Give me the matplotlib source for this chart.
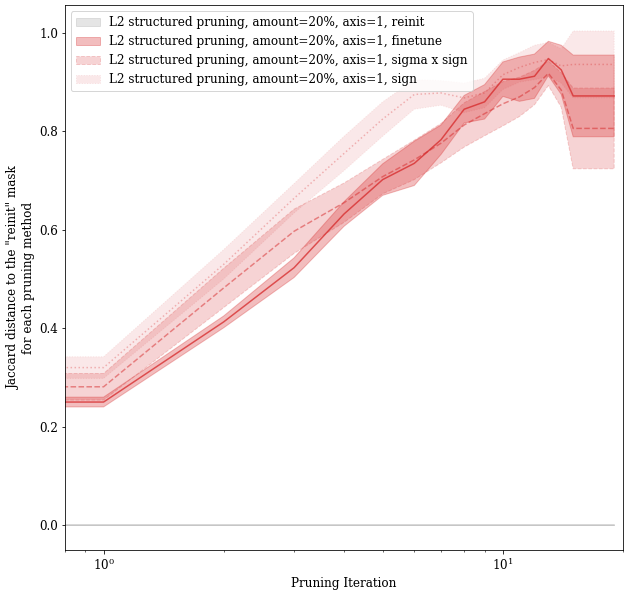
import numpy as np
import matplotlib
matplotlib.use("Agg")
import matplotlib.pyplot as plt

plt.rcParams["font.family"] = ["DejaVu Serif"]
plt.rcParams["mathtext.fontset"] = "dejavuserif"
plt.rcParams["font.size"] = 12

# pruning iterations (0 falls off the log axis, as in the original)
iterations = [0, 1, 2, 3, 4, 5, 6, 7, 8, 9, 10, 11, 12, 13, 14, 15, 16, 17, 18, 19]

reinit_mean = [0.0] * 20
reinit_std = [0.0] * 20

finetune_mean = [0.25, 0.25, 0.413, 0.523, 0.632, 0.702, 0.735, 0.783, 0.845, 0.86,
                 0.906, 0.906, 0.912, 0.948, 0.925, 0.872, 0.872, 0.872, 0.872, 0.872]
finetune_std = [0.01, 0.01, 0.012, 0.02, 0.025, 0.032, 0.045, 0.03, 0.028, 0.035,
                0.035, 0.045, 0.045, 0.035, 0.05, 0.083, 0.083, 0.083, 0.083, 0.083]

sigma_mean = [0.281, 0.281, 0.482, 0.597, 0.655, 0.708, 0.742, 0.776, 0.813, 0.836,
              0.856, 0.87, 0.889, 0.918, 0.884, 0.806, 0.806, 0.806, 0.806, 0.806]
sigma_std = [0.027, 0.027, 0.04, 0.045, 0.04, 0.035, 0.04, 0.04, 0.045, 0.045,
             0.045, 0.04, 0.035, 0.025, 0.035, 0.082, 0.082, 0.082, 0.082, 0.082]

sign_mean = [0.32, 0.32, 0.53, 0.664, 0.755, 0.825, 0.875, 0.878, 0.868, 0.878,
             0.915, 0.93, 0.94, 0.946, 0.933, 0.936, 0.936, 0.936, 0.936, 0.936]
sign_std = [0.022, 0.022, 0.03, 0.03, 0.035, 0.035, 0.03, 0.025, 0.03, 0.03,
            0.03, 0.03, 0.035, 0.035, 0.035, 0.068, 0.068, 0.068, 0.068, 0.068]

labels = [
    "L2 structured pruning, amount=20%, axis=1, reinit",
    "L2 structured pruning, amount=20%, axis=1, finetune",
    "L2 structured pruning, amount=20%, axis=1, sigma x sign",
    "L2 structured pruning, amount=20%, axis=1, sign",
]

series = [
    (reinit_mean, reinit_std, "grey", "-", 0.2, 0.4),
    (finetune_mean, finetune_std, "tab:red", "-", 0.3, 0.75),
    (sigma_mean, sigma_std, "tab:red", "--", 0.2, 0.5),
    (sign_mean, sign_std, "tab:red", ":", 0.1, 0.3),
]

fig = plt.figure(figsize=(630 / 72, 597 / 72), dpi=72)
ax = fig.add_axes([0.103, 0.079, 0.886, 0.912])

x = np.array(iterations, dtype=float)
with np.errstate(divide="ignore", invalid="ignore"):
    for (m, s, c, ls, fa, la), lab in zip(series, labels):
        m = np.array(m)
        s = np.array(s)
        ax.fill_between(x, m - s, m + s, color=c, alpha=fa, linestyle=ls, label=lab)
        ax.plot(x, m, color=c, linestyle=ls, alpha=la, lw=1.5)

ax.set_xscale("log")
ax.set_xlim(0.8, 20)
ax.set_ylim(-0.0503, 1.056)
ax.set_xlabel("Pruning Iteration")
ax.set_ylabel('Jaccard distance to the "reinit" mask\nfor each pruning method')
ax.legend(loc="upper left")

fig.savefig("out.png", dpi=72)
